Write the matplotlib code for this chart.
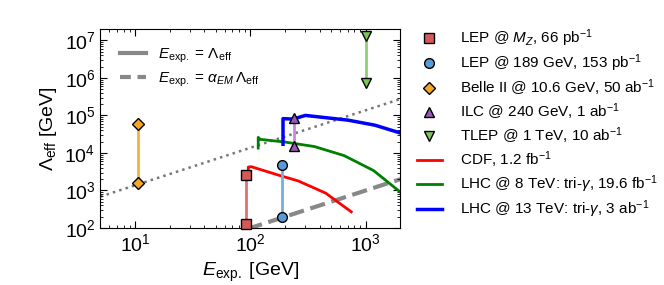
import numpy as np
import matplotlib
matplotlib.use("Agg")
import matplotlib.pyplot as plt
from matplotlib.lines import Line2D
from matplotlib.ticker import LogLocator

plt.rcParams['font.family'] = ['Liberation Sans', 'DejaVu Sans']
plt.rcParams['mathtext.fontset'] = 'custom'
plt.rcParams['mathtext.rm'] = 'Liberation Sans'
plt.rcParams['mathtext.it'] = 'Liberation Sans:italic'
plt.rcParams['mathtext.bf'] = 'Liberation Sans:bold'

ALPHA_EM = 1.0 / 137.0

# experiments with a lower / upper reach (energy, lambda_low, lambda_high)
lep_mz_E, lep_mz_L = 91.2, [130, 2600]
lep189_E, lep189_L = 189, [195, 4800]
belle_E, belle_L = 10.6, [1580, 59000]
ilc_E, ilc_L = 240, [15700, 87000]
tlep_E, tlep_L = 1000, [7.4e5, 1.27e7]

# exclusion curves
cdf_E = [96, 96, 102, 180, 260, 450, 750]
cdf_L = [2000, 4200, 4300, 2500, 1800, 850, 270]
lhc8_E = [117, 117, 122, 200, 360, 650, 1170, 1450, 2000]
lhc8_L = [13500, 26000, 23000, 19500, 14800, 8500, 3400, 2000, 900]
lhc13_E = [192, 192, 235, 300, 700, 1200, 2000]
lhc13_L = [17000, 82000, 80000, 100000, 75000, 55000, 34000]

E_grid = [5, 2000]


def point_pair(ax, E, L, color, lcolor, marker, label, ms=7):
    ax.plot([E, E], L, '-', color=lcolor, lw=2, zorder=3)
    ax.plot([E, E], L, ls='none', marker=marker, ms=ms, mfc=color, mec='k',
            mew=1, zorder=4, clip_on=False, label=label)


fig = plt.figure(figsize=(6.64, 2.85), dpi=100)
ax = fig.add_axes([0.151, 0.2, 0.452, 0.698])

ax.plot(E_grid, [e / ALPHA_EM for e in E_grid], ':', color='#777777', lw=1.8, zorder=1)
ax.plot(E_grid, E_grid, '--', color='#888888', lw=3, zorder=1)

point_pair(ax, lep_mz_E, lep_mz_L, '#d45a5a', '#e07070', 's', r'LEP @ $M_Z$, 66 pb$^{-1}$')
point_pair(ax, lep189_E, lep189_L, '#5b9bd5', '#74aee0', 'o', r'LEP @ 189 GeV, 153 pb$^{-1}$')
point_pair(ax, belle_E, belle_L, '#f5a623', '#f8b038', 'D', r'Belle II @ 10.6 GeV, 50 ab$^{-1}$', ms=6.5)
point_pair(ax, ilc_E, ilc_L, '#9b59b6', '#c78bd8', '^', r'ILC @ 240 GeV, 1 ab$^{-1}$')
point_pair(ax, tlep_E, tlep_L, '#7cc45c', '#8ed070', 'v', r'TLEP @ 1 TeV, 10 ab$^{-1}$')

ax.plot(cdf_E, cdf_L, '-', color='red', lw=2, label=r'CDF, 1.2 fb$^{-1}$', zorder=2)
ax.plot(lhc8_E, lhc8_L, '-', color='green', lw=2,
        label=r'LHC @ 8 TeV: tri-$\gamma$, 19.6 fb$^{-1}$', zorder=2)
ax.plot(lhc13_E, lhc13_L, '-', color='blue', lw=2.5,
        label=r'LHC @ 13 TeV: tri-$\gamma$, 3 ab$^{-1}$', zorder=2)

ax.set_xscale('log')
ax.set_yscale('log')
ax.set_xlim(5, 2000)
ax.set_ylim(100, 2e7)
ax.yaxis.set_major_locator(LogLocator(base=10, numticks=12))
ax.yaxis.set_minor_locator(LogLocator(base=10, subs=np.arange(2, 10), numticks=12))
ax.set_xlabel(r'$E_{\rm exp.}$ [GeV]', fontsize=14)
ax.set_ylabel(r'$\Lambda_{\rm eff}$ [GeV]', fontsize=14)
ax.tick_params(which='both', direction='in', top=True, right=True, labelsize=14)
ax.tick_params(which='major', length=5)
ax.tick_params(which='minor', length=2.5)

main_leg = ax.legend(loc='upper left', bbox_to_anchor=(1.02, 1.06), frameon=False,
                     fontsize=11, numpoints=1, handlelength=1.6, handletextpad=1.2,
                     labelspacing=0.22, borderaxespad=0.3)

guide_handles = [Line2D([], [], color='#888888', lw=3, ls='-'),
                 Line2D([], [], color='#888888', lw=3, ls=(0, (2.6, 1.6)))]
guide_labels = [r'$E_{\rm exp.}$ = $\Lambda_{\rm eff}$',
                r'$E_{\rm exp.}$ = $\alpha_{EM}\,\Lambda_{\rm eff}$']
ax.legend(guide_handles, guide_labels, loc='upper left', frameon=False, fontsize=11,
          handlelength=1.7, labelspacing=0.35, bbox_to_anchor=(0.02, 0.98))
ax.add_artist(main_leg)

fig.savefig('out.png', dpi=100)
